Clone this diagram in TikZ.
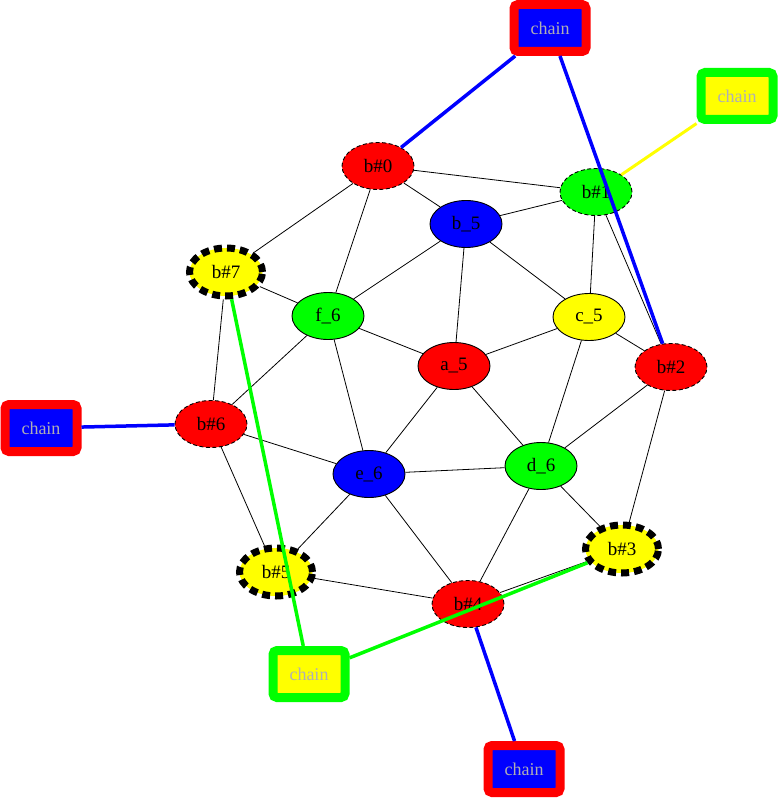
\documentclass[tikz,border=0pt]{standalone}
\usepackage{fontspec}
\setmainfont{Liberation Serif}
\usetikzlibrary{shapes.geometric,backgrounds}
\definecolor{gred}{RGB}{255,0,0}
\definecolor{ggreen}{RGB}{0,255,0}
\definecolor{gblue}{RGB}{0,0,255}
\definecolor{gyellow}{RGB}{255,255,0}
\definecolor{ggray}{RGB}{175,175,180}
\begin{document}
\begin{tikzpicture}[x=1pt,y=-1pt,
  ell/.style={ellipse,draw=black,line width=0.9pt,minimum width=72pt,minimum height=47pt,inner sep=0pt,font=\fontsize{19}{19}\selectfont},
  dashnode/.style={ell,dash pattern=on 4pt off 2.5pt},
  boldnode/.style={ell,line width=7pt,dash pattern=on 8pt off 5pt,minimum width=73pt,minimum height=48pt},
  chainbox/.style={rectangle,rounded corners=4pt,line width=9pt,minimum width=72pt,minimum height=47pt,inner sep=0pt,font=\fontsize{18}{18}\selectfont,text=ggray},
  redbox/.style={chainbox,draw=gred,fill=gblue},
  greenbox/.style={chainbox,draw=ggreen,fill=gyellow},
  edge/.style={line width=0.8pt,black},
  hl/.style={line width=3.5pt}]
\useasboundingbox (0,0) rectangle (778,799);

\node[dashnode,fill=gred] (b0) at (378,166) {b\#0};
\node[dashnode,fill=ggreen] (b1) at (596,192) {b\#1};
\node[ell,fill=gblue] (b5x) at (466,224) {b\_5};
\node[boldnode,fill=gyellow] (b7) at (226,272) {b\#7};
\node[ell,fill=ggreen] (f6) at (328,316) {f\_6};
\node[ell,fill=gyellow] (c5) at (589,317) {c\_5};
\node[ell,fill=gred] (a5) at (454,366) {a\_5};
\node[dashnode,fill=gred] (b2) at (671,367) {b\#2};
\node[dashnode,fill=gred] (b6) at (211,424) {b\#6};
\node[ell,fill=gblue] (e6) at (369,474) {e\_6};
\node[ell,fill=ggreen] (d6) at (541,466) {d\_6};
\node[boldnode,fill=gyellow] (b3) at (622,549) {b\#3};
\node[boldnode,fill=gyellow] (b5) at (276,572) {b\#5};
\node[dashnode,fill=gred] (b4) at (468,604) {b\#4};

\node[redbox] (ct) at (550,28) {chain};
\node[greenbox] (ctr) at (737,96) {chain};
\node[redbox] (cl) at (41,428) {chain};
\node[greenbox] (cbl) at (309,674) {chain};
\node[redbox] (cb) at (524,769) {chain};

\begin{pgfonlayer}{background}
\fill[white] (0,0) rectangle (778,799);
\draw[edge] (b0) -- (b1);
\draw[edge] (b0) -- (b5x);
\draw[edge] (b0) -- (b7);
\draw[edge] (b0) -- (f6);
\draw[edge] (b1) -- (b5x);
\draw[edge] (b1) -- (c5);
\draw[edge] (b1) -- (b2);
\draw[edge] (b5x) -- (f6);
\draw[edge] (b5x) -- (a5);
\draw[edge] (b5x) -- (c5);
\draw[edge] (b7) -- (f6);
\draw[edge] (b7) -- (b6);
\draw[edge] (f6) -- (a5);
\draw[edge] (f6) -- (b6);
\draw[edge] (f6) -- (e6);
\draw[edge] (c5) -- (a5);
\draw[edge] (c5) -- (b2);
\draw[edge] (c5) -- (d6);
\draw[edge] (a5) -- (e6);
\draw[edge] (a5) -- (d6);
\draw[edge] (b2) -- (d6);
\draw[edge] (b2) -- (b3);
\draw[edge] (b6) -- (e6);
\draw[edge] (b6) -- (b5);
\draw[edge] (e6) -- (d6);
\draw[edge] (e6) -- (b5);
\draw[edge] (e6) -- (b4);
\draw[edge] (d6) -- (b4);
\draw[edge] (d6) -- (b3);
\draw[edge] (b5) -- (b4);
\draw[edge] (b4) -- (b3);
\end{pgfonlayer}

\draw[hl,gblue] (ct) -- (b0);
\draw[hl,gblue] (ct) -- (b2);
\draw[hl,gyellow,line width=3pt] (ctr) -- (b1);
\draw[hl,gblue] (cl) -- (b6);
\draw[hl,ggreen] (cbl) -- (b7);
\draw[hl,ggreen] (cbl) -- (b3);
\draw[hl,gblue] (cb) -- (b4);
\end{tikzpicture}
\end{document}
